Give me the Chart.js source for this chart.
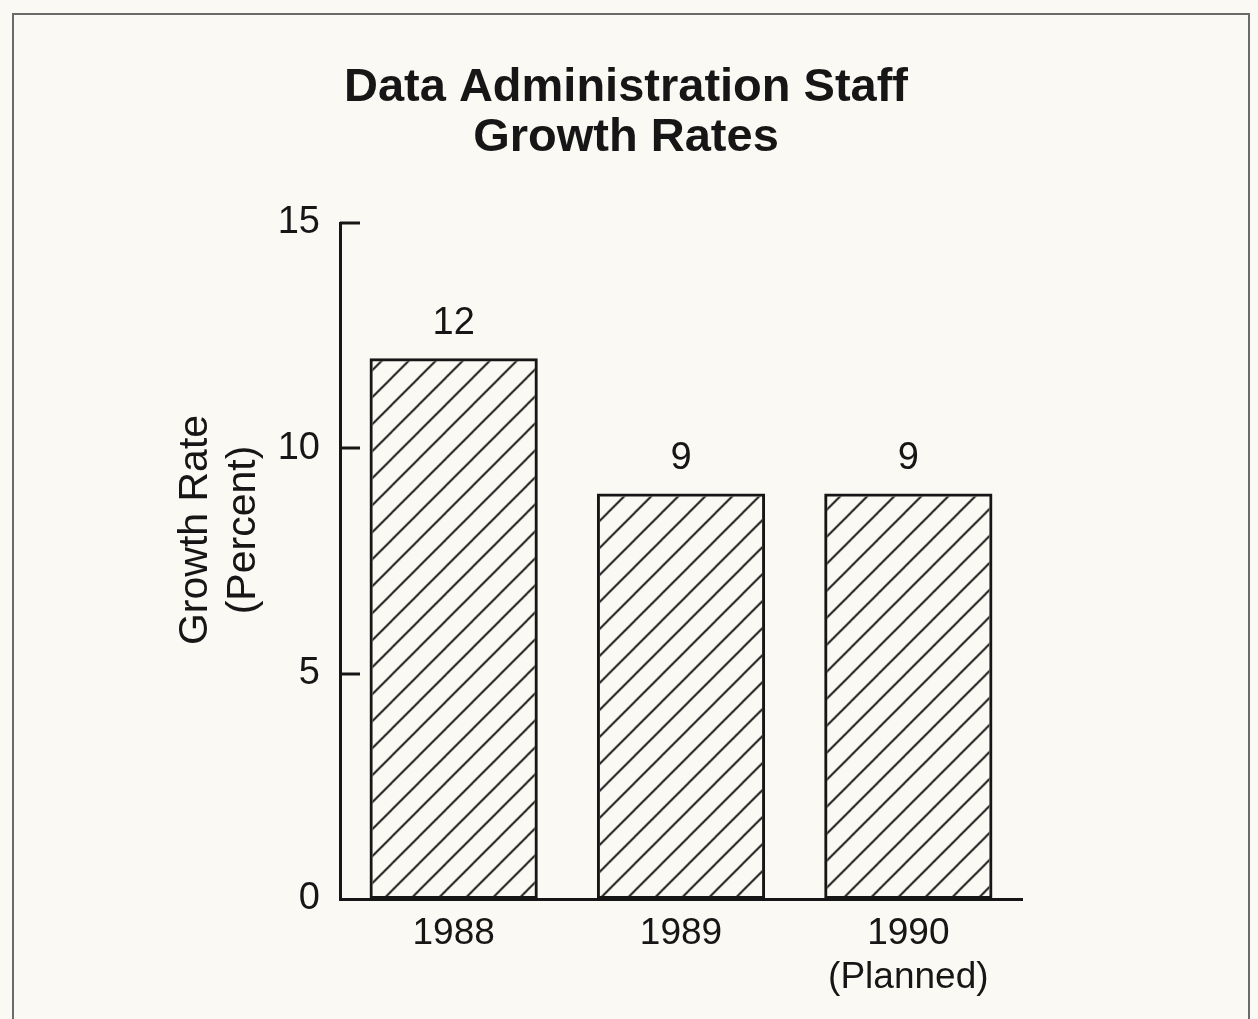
<!DOCTYPE html>
<html>
<head>
<meta charset="utf-8">
<title>Data Administration Staff Growth Rates</title>
<script src="https://cdn.jsdelivr.net/npm/chart.js@4.4.1/dist/chart.umd.min.js"></script>
<style>
  html, body { margin: 0; padding: 0; background: #fbf9f3; }
  #wrap { width: 1258px; height: 1019px; position: relative; }
</style>
</head>
<body>
<div id="wrap"><canvas id="growth-chart"></canvas></div>
<script>
// Dados do gráfico
const years = ['1988', '1989', ['1990', '(Planned)']];
const growthRates = [12, 9, 9];
const yTicks = [0, 5, 10, 15];
const chartTitle = ['Data Administration Staff', 'Growth Rates'];
const yTitle = ['Growth Rate', '(Percent)'];

const ink = '#161616';
const fontFamily = '"Liberation Sans", Arial, Helvetica, sans-serif';

// Padrão de hachura diagonal (/) para as barras
function makeHatch() {
    const s = 27;
    const c = document.createElement('canvas');
    c.width = s;
    c.height = s;
    const g = c.getContext('2d');
    g.strokeStyle = '#1e1e1e';
    g.lineWidth = 2;
    g.beginPath();
    g.moveTo(-s, s); g.lineTo(s, -s);
    g.moveTo(0, s); g.lineTo(s, 0);
    g.moveTo(0, 2 * s); g.lineTo(2 * s, 0);
    g.stroke();
    const p = g.createPattern(c, 'repeat');
    p.setTransform(new DOMMatrix().translate(13.5, 0));
    return p;
}

// Moldura, marcas internas do eixo Y, rótulos das barras e título do eixo Y
const extras = {
    id: 'extras',
    beforeDraw(chart) {
        const ctx = chart.ctx;
        ctx.save();
        ctx.strokeStyle = '#6a6a6a';
        ctx.lineWidth = 2;
        ctx.strokeRect(13, 14, 1236, 1100);
        ctx.restore();
    },
    afterDraw(chart) {
        const ctx = chart.ctx;
        const y = chart.scales.y;
        const area = chart.chartArea;
        ctx.save();
        ctx.strokeStyle = ink;
        ctx.lineWidth = 3;
        y.ticks.forEach(t => {
            if (t.value === 0) return;
            const py = Math.round(y.getPixelForValue(t.value));
            ctx.beginPath();
            ctx.moveTo(area.left, py);
            ctx.lineTo(area.left + 20, py);
            ctx.stroke();
        });

        ctx.fillStyle = ink;
        ctx.font = '38px ' + fontFamily;
        ctx.textAlign = 'center';
        ctx.textBaseline = 'middle';
        chart.getDatasetMeta(0).data.forEach((bar, i) => {
            ctx.fillText(String(growthRates[i]), bar.x, bar.y - 35);
        });

        ctx.font = '41px ' + fontFamily;
        const cy = (area.top + area.bottom) / 2 - 31;
        ctx.translate(0, cy);
        ctx.rotate(-Math.PI / 2);
        ctx.fillText(yTitle[0], 0, 196);
        ctx.fillText(yTitle[1], 0, 244);
        ctx.restore();
    }
};

const ctx = document.getElementById('growth-chart').getContext('2d');
window.myChart = new Chart(ctx, {
    type: 'bar',
    data: {
        labels: years,
        datasets: [{
            label: 'Growth Rate',
            data: growthRates,
            backgroundColor: makeHatch(),
            borderColor: ink,
            borderWidth: 3,
            borderSkipped: false,
            barPercentage: 0.74,
            categoryPercentage: 1.0
        }]
    },
    options: {
        responsive: true,
        maintainAspectRatio: false,
        animation: false,
        layout: { padding: { left: 0, right: 6, top: 0, bottom: 0 } },
        plugins: {
            legend: { display: false },
            tooltip: { enabled: false },
            title: {
                display: true,
                text: chartTitle,
                color: ink,
                font: { family: fontFamily, size: 47, weight: 'bold', lineHeight: 50 / 47 },
                padding: { top: 63, bottom: 60 }
            }
        },
        scales: {
            x: {
                grid: { display: false },
                border: { display: true, color: ink, width: 3 },
                ticks: {
                    color: ink,
                    padding: 5,
                    font: { family: fontFamily, size: 37, lineHeight: 1.19 }
                },
                afterFit(scale) { scale.height = 120; }
            },
            y: {
                min: 0,
                max: 15,
                grid: { display: false },
                border: { display: true, color: ink, width: 3 },
                ticks: {
                    stepSize: 5,
                    color: ink,
                    padding: 12,
                    font: { family: fontFamily, size: 38 },
                    callback: (v) => yTicks.includes(v) ? String(v) : ''
                },
                afterFit(scale) { scale.width = 340; }
            },
            // eixo vazio à direita, só para reservar espaço
            spacer: {
                position: 'right',
                display: true,
                grid: { display: false },
                border: { display: false },
                ticks: { display: false },
                afterFit(scale) { scale.width = 230; }
            }
        }
    },
    plugins: [extras]
});
</script>
</body>
</html>
